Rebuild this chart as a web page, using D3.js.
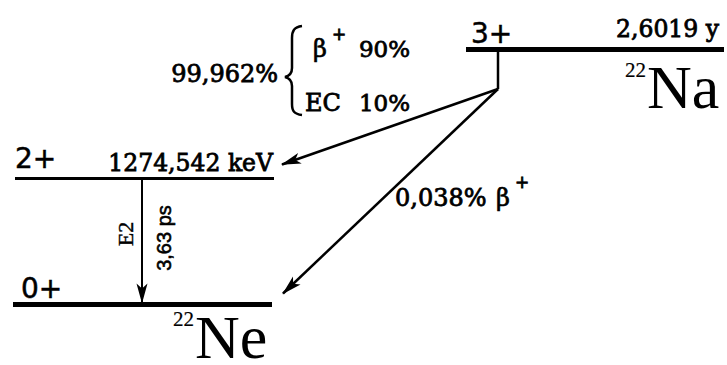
<!DOCTYPE html>
<html>
<head>
<meta charset="utf-8">
<script src="https://cdn.jsdelivr.net/npm/d3@7"></script>
<style>
  html, body { margin: 0; padding: 0; background: #fff; }
  svg { display: block; }
</style>
</head>
<body>
<script>
// ---- data ----
const levelSpins   = ["3+", "2+", "0+"];
const levelInfo    = ["2,6019 y", "1274,542 keV", ""];
const nuclides     = ["Na", "Ne", "Ne"];
const massNumbers  = ["22", "22", "22"];
const branchTotal  = ["99,962%", "0,038%"];
const branchModes  = ["β", "EC"];
const branchShares = ["90%", "10%"];
const gammaType    = ["E2"];
const gammaLife    = ["3,63 ps"];

const W = 727, H = 365;
const svg = d3.select("body").append("svg").attr("width", W).attr("height", H);

// layout (levels drawn to schematic positions)
const yLevel = d3.scaleOrdinal().domain(levelSpins).range([49.5, 178.5, 304.5]);
const xLevel = d3.scaleOrdinal().domain(levelSpins).range([[466, 724], [15, 274], [13, 272]]);
const thick  = d3.scaleOrdinal().domain(levelSpins).range([5, 3, 5]);

const serif = "'DejaVu Serif', serif";
const sans = "'DejaVu Sans', sans-serif";
const times = "'Liberation Serif', 'Times New Roman', serif";

function txt(x, y, s, size, fam, opt = {}) {
  const t = svg.append("text").attr("x", x).attr("y", y).text(s)
    .attr("font-size", size).attr("font-family", fam).attr("fill", "#000");
  if (opt.anchor) t.attr("text-anchor", opt.anchor);
  if (opt.bold) t.attr("stroke", "#000").attr("stroke-width", opt.bold);
  if (opt.rotate) t.attr("transform", `rotate(${opt.rotate},${x},${y})`);
  return t;
}

// level lines
levelSpins.forEach(s => {
  const [x0, x1] = xLevel(s);
  svg.append("line").attr("x1", x0).attr("x2", x1)
    .attr("y1", yLevel(s)).attr("y2", yLevel(s))
    .attr("stroke", "#000").attr("stroke-width", thick(s));
});

// arrow helper
function arrow(x0, y0, x1, y1, w) {
  svg.append("line").attr("x1", x0).attr("y1", y0)
    .attr("x2", x1).attr("y2", y1)
    .attr("stroke", "#000").attr("stroke-width", w);
  const ang = Math.atan2(y1 - y0, x1 - x0);
  const L = 19, hw = 5.5, back = 14;
  const ux = Math.cos(ang), uy = Math.sin(ang), px = -uy, py = ux;
  const bx = x1 - ux * L, by = y1 - uy * L;
  const nx = x1 - ux * back, ny = y1 - uy * back;
  const pts = [[x1 + ux * 1, y1 + uy * 1], [bx + px * hw, by + py * hw], [nx, ny], [bx - px * hw, by - py * hw]];
  svg.append("path").attr("d", "M" + pts.map(p => p.join(",")).join("L") + "Z")
    .attr("fill", "#000");
}

// Na decay: vertical stub then two branches
const hubX = 498, hubY = 89;
svg.append("line").attr("x1", hubX).attr("x2", hubX)
  .attr("y1", yLevel("3+")).attr("y2", hubY)
  .attr("stroke", "#000").attr("stroke-width", 2.5);
arrow(hubX, hubY, 282, yLevel("2+") - 14, 2.5);
arrow(hubX, hubY, 283, yLevel("0+") - 11, 2.5);

// gamma transition
arrow(142, yLevel("2+") + 1, 142, yLevel("0+") - 2, 2);

// level labels
txt(471, 43, levelSpins[0], 28, sans, { bold: 0.5 });
txt(719, 37, levelInfo[0], 23.5, serif, { anchor: "end", bold: 0.8 });
txt(15, 168, levelSpins[1], 28, sans, { bold: 0.5 });
txt(273, 171, levelInfo[1], 23.5, serif, { anchor: "end", bold: 0.8 });
txt(21, 298, levelSpins[2], 28, sans, { bold: 0.5 });

// nuclide labels
txt(646, 77, massNumbers[0], 21, times, { anchor: "end", bold: 0.2 });
txt(647, 108, nuclides[0], 62, times);
txt(194, 326, massNumbers[1], 21, times, { anchor: "end", bold: 0.2 });
txt(195, 358, nuclides[1], 62, times);

// branching labels
txt(278, 82, branchTotal[0], 24, serif, { anchor: "end", bold: 0.8 });
// brace
svg.append("path")
  .attr("d", "M302,26 C294,27 292,31 292,38 L292,68 C292,73 289,76 285,77 C289,78 292,81 292,86 L292,104 C292,111 294,114 302,115")
  .attr("fill", "none").attr("stroke", "#000").attr("stroke-width", 2.5);
txt(313, 57, branchModes[0], 24, serif, { bold: 0.7 });
txt(332, 40, "+", 17, sans, { bold: 0.8 });
txt(410, 57, branchShares[0], 23, serif, { anchor: "end", bold: 0.8 });
txt(305, 111, branchModes[1], 24, serif, { bold: 0.8 });
txt(410, 111, branchShares[1], 23, serif, { anchor: "end", bold: 0.8 });

txt(395, 206, branchTotal[1], 24, serif, { bold: 0.8 });
txt(496, 206, branchModes[0], 24, serif, { bold: 0.7 });
txt(515, 188, "+", 17, sans, { bold: 0.8 });

// gamma labels (rotated)
txt(133, 234, gammaType[0], 22, times, { anchor: "middle", rotate: -90, bold: 0.4 });
txt(171, 238, gammaLife[0], 20, "'Liberation Sans', Arial, sans-serif", { anchor: "middle", rotate: -90, bold: 0.6 });
</script>
</body>
</html>
